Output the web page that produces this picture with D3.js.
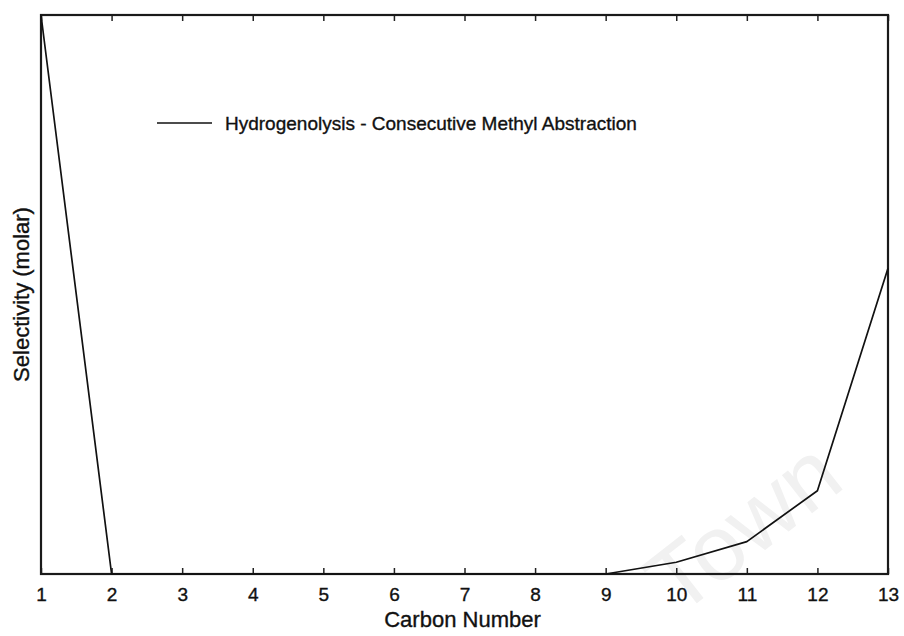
<!DOCTYPE html>
<html>
<head>
<meta charset="utf-8">
<script src="https://cdn.jsdelivr.net/npm/d3@7"></script>
<style>
  body { margin: 0; background: #fff; }
  svg text { font-family: "Liberation Sans", Arial, sans-serif; fill: #111; }
  .ink { stroke: #111; stroke-width: 0.35px; }
</style>
</head>
<body>
<svg id="chart" width="904" height="636"></svg>
<script>
// carbon numbers on the x axis
var carbonNumbers = [1, 2, 3, 4, 5, 6, 7, 8, 9, 10, 11, 12, 13];
// selectivity (molar), relative to the axis height
var selectivity = [1.0, 0, 0, 0, 0, 0, 0, 0, 0, 0.021, 0.058, 0.149, 0.547];
var seriesName = "Hydrogenolysis - Consecutive Methyl Abstraction";
var xTitle = "Carbon Number";
var yTitle = "Selectivity (molar)";

var svg = d3.select("#chart");
var margin = { top: 15, right: 16, bottom: 62, left: 41 },
	width = +svg.attr("width") - margin.left - margin.right,
	height = +svg.attr("height") - margin.top - margin.bottom;

var x = d3.scaleLinear().domain([1, 13]).range([0, width]);
var y = d3.scaleLinear().domain([0, 1]).range([height, 0]);

// faint scan watermark
svg.append("text")
	.attr("transform", "translate(678,618) rotate(-38)")
	.attr("font-size", 92)
	.style("fill", "#f1f1f1")
	.text("Town");

var g = svg.append("g").attr("transform", "translate(" + margin.left + "," + margin.top + ")");

// bottom axis: labels below, ticks pointing inward
var xAxis = g.append("g").attr("transform", "translate(0," + height + ")")
	.call(d3.axisBottom(x).tickValues(carbonNumbers).tickFormat(d3.format("d")).tickSize(-6).tickPadding(14));
xAxis.select(".domain").remove();
xAxis.selectAll("line").attr("stroke", "#222").attr("stroke-width", 1.5);
xAxis.selectAll("text").attr("font-size", 19).attr("class", "ink").style("font-family", null);

// top axis ticks
var topAxis = g.append("g")
	.call(d3.axisTop(x).tickValues(carbonNumbers).tickFormat("").tickSize(-6));
topAxis.select(".domain").remove();
topAxis.selectAll("line").attr("stroke", "#222").attr("stroke-width", 1.5);

// frame
g.append("rect")
	.attr("width", width).attr("height", height)
	.attr("fill", "none").attr("stroke", "#1a1a1a").attr("stroke-width", 2.2);

// series line
var line = d3.line()
	.x(function(d, i) { return x(carbonNumbers[i]); })
	.y(function(d) { return y(d); });

g.append("path").datum(selectivity)
	.attr("fill", "none").attr("stroke", "#111").attr("stroke-width", 1.7)
	.attr("stroke-linejoin", "round")
	.attr("d", line);

// legend
g.append("line")
	.attr("x1", 116).attr("x2", 171).attr("y1", 108).attr("y2", 108)
	.attr("stroke", "#111").attr("stroke-width", 1.7);
g.append("text")
	.attr("x", 184).attr("y", 115)
	.attr("font-size", 19).attr("class", "ink")
	.text(seriesName);

// axis titles
svg.append("text")
	.attr("x", margin.left + width / 2 - 2).attr("y", 627)
	.attr("text-anchor", "middle").attr("font-size", 22).attr("class", "ink")
	.text(xTitle);

svg.append("text")
	.attr("transform", "translate(29," + (margin.top + height / 2) + ") rotate(-90)")
	.attr("text-anchor", "middle").attr("font-size", 22).attr("class", "ink")
	.text(yTitle);
</script>
</body>
</html>
